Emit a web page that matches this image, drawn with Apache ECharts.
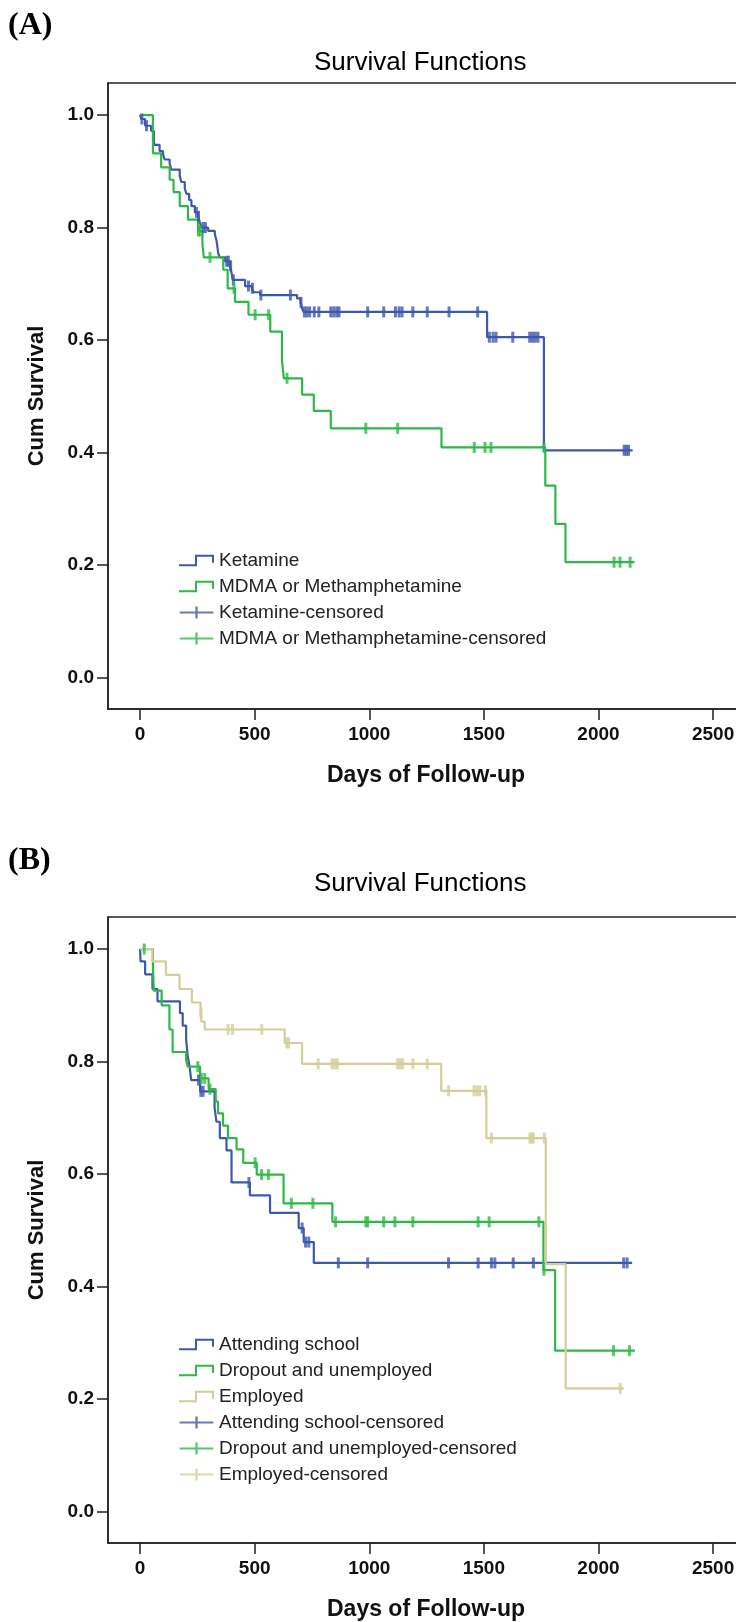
<!DOCTYPE html>
<html lang="en">
<head>
    <meta charset="UTF-8">
    <title>Survival Functions</title>
    <style>
        html, body {
            margin: 0;
            padding: 0;
            background: #ffffff;
        }
        #chart {
            width: 736px;
            height: 1622px;
        }
    </style>
</head>
<body>
<div id="chart"></div>
<script src="https://cdn.jsdelivr.net/npm/echarts@6/dist/echarts.min.js"></script>
<script>
    // (A) Ketamine vs MDMA / Methamphetamine: step times and survival after each step
    var ketTime = [0, 5, 22, 48, 60, 62, 85, 100, 107, 129, 136, 173, 180, 195, 202, 214, 224, 239, 253, 261, 268, 297, 326, 334, 341, 348, 370, 392, 400, 404, 458, 488, 495, 524, 685, 700, 707, 714, 1514, 1762, 2149];
    var ketSurv = [1.0, 0.993, 0.981, 0.972, 0.955, 0.947, 0.936, 0.930, 0.921, 0.914, 0.903, 0.892, 0.881, 0.870, 0.860, 0.849, 0.838, 0.827, 0.820, 0.809, 0.800, 0.794, 0.788, 0.776, 0.754, 0.747, 0.740, 0.732, 0.718, 0.707, 0.696, 0.692, 0.685, 0.680, 0.674, 0.667, 0.656, 0.650, 0.605, 0.404, 0.404];
    var ketCens = [8, 28, 246, 255, 275, 285, 378, 385, 395, 407, 473, 490, 527, 656, 702, 717, 728, 740, 760, 780, 832, 845, 858, 868, 993, 1063, 1114, 1130, 1143, 1190, 1253, 1348, 1473, 1524, 1540, 1553, 1626, 1700, 1712, 1724, 1736, 2112, 2122, 2131];

    var mdmaTime = [0, 56, 92, 129, 146, 173, 209, 253, 272, 278, 363, 382, 414, 473, 568, 619, 627, 707, 758, 832, 1315, 1768, 1812, 1856, 2157];
    var mdmaSurv = [1.0, 0.932, 0.907, 0.885, 0.863, 0.838, 0.814, 0.794, 0.770, 0.747, 0.725, 0.692, 0.668, 0.645, 0.615, 0.565, 0.532, 0.503, 0.474, 0.443, 0.409, 0.341, 0.273, 0.205, 0.205];
    var mdmaCens = [255, 262, 305, 410, 502, 561, 641, 985, 1124, 1458, 1505, 1531, 1762, 2068, 2094, 2138];

    // (B) Attending school / Dropout and unemployed / Employed
    var schTime = [0, 2, 22, 54, 76, 174, 186, 201, 208, 216, 223, 262, 325, 333, 348, 377, 399, 479, 567, 692, 714, 758, 2147];
    var schSurv = [1.0, 0.978, 0.955, 0.929, 0.907, 0.886, 0.864, 0.839, 0.809, 0.791, 0.767, 0.747, 0.718, 0.693, 0.664, 0.642, 0.585, 0.562, 0.531, 0.504, 0.479, 0.442, 0.442];
    var schCens = [255, 265, 275, 475, 707, 722, 736, 865, 993, 1346, 1475, 1533, 1548, 1628, 1716, 2110, 2125];

    var dropTime = [0, 56, 60, 94, 128, 142, 201, 208, 262, 299, 330, 340, 362, 384, 421, 450, 509, 626, 839, 1760, 1811, 2159];
    var dropSurv = [1.0, 0.970, 0.926, 0.900, 0.857, 0.817, 0.802, 0.791, 0.770, 0.751, 0.729, 0.708, 0.686, 0.664, 0.644, 0.620, 0.599, 0.548, 0.515, 0.429, 0.286, 0.286];
    var dropCens = [18, 252, 267, 282, 305, 502, 530, 560, 660, 754, 853, 985, 993, 1063, 1112, 1190, 1475, 1523, 1740, 1762, 2066, 2135];

    var empTime = [0, 54, 113, 172, 226, 264, 268, 282, 631, 707, 1314, 1511, 1770, 1857, 2110];
    var empSurv = [1.0, 0.978, 0.954, 0.929, 0.905, 0.886, 0.871, 0.857, 0.833, 0.796, 0.748, 0.664, 0.440, 0.219, 0.219];
    var empCens = [266, 384, 403, 531, 640, 648, 777, 838, 850, 861, 1124, 1135, 1146, 1190, 1253, 1346, 1457, 1470, 1482, 1507, 1533, 1701, 1708, 1716, 1764, 2095];

    var xTicks = [0, 500, 1000, 1500, 2000, 2500];
    var yTicks = [0, 0.2, 0.4, 0.6, 0.8, 1.0];

    var blue = '#3E58AC';
    var green = '#2EB848';
    var tan = '#D3CE97';

    var stepIcon = 'path://M0,9.5 L16,9.5 L16,0 L35,0 L35,8 L33,8 L33,2 L18,2 L18,11.5 L0,11.5 Z';
    var plusIcon = 'path://M0,5.2 L16.3,5.2 L16.3,0 L18.7,0 L18.7,5.2 L35,5.2 L35,7.2 L18.7,7.2 L18.7,12.5 L16.3,12.5 L16.3,7.2 L0,7.2 Z';

    function survAt(times, surv, t) {
        var s = surv[0];
        for (var i = 0; i < times.length; i++) {
            if (times[i] <= t) s = surv[i];
        }
        return s;
    }

    function curve(name, times, surv, color, idx) {
        return {
            name: name,
            type: 'line',
            step: 'end',
            xAxisIndex: idx,
            yAxisIndex: idx,
            symbol: 'none',
            color: color,
            lineStyle: {color: color, width: 2.2},
            data: times.map(function (t, i) { return [t, surv[i]]; })
        };
    }

    function censored(name, cens, times, surv, color, idx) {
        return {
            name: name,
            type: 'scatter',
            xAxisIndex: idx,
            yAxisIndex: idx,
            symbol: 'rect',
            symbolSize: [3, 11],
            color: color,
            itemStyle: {color: color},
            z: 3,
            data: cens.map(function (t) { return [t, survAt(times, surv, t)]; })
        };
    }

    function xAxis(idx) {
        return {
            type: 'value',
            gridIndex: idx,
            min: -140,
            max: 2635,
            name: 'Days of Follow-up',
            nameLocation: 'middle',
            nameGap: 55,
            nameTextStyle: {fontFamily: 'Liberation Sans', fontWeight: 'bold', fontSize: 23, color: '#111'},
            axisLine: {onZero: false, lineStyle: {color: '#222', width: 1.5}},
            axisTick: {customValues: xTicks, length: 11, lineStyle: {color: '#222', width: 1.5}},
            axisLabel: {
                customValues: xTicks, margin: 16,
                fontFamily: 'Liberation Sans', fontWeight: 'bold', fontSize: 19, color: '#111',
                formatter: function (v) { return String(v); }
            },
            splitLine: {show: false}
        };
    }

    function yAxis(idx) {
        return {
            type: 'value',
            gridIndex: idx,
            min: -0.056,
            max: 1.057,
            name: 'Cum Survival',
            nameLocation: 'middle',
            nameGap: 60,
            nameTextStyle: {fontFamily: 'Liberation Sans', fontWeight: 'bold', fontSize: 22, color: '#111'},
            axisLine: {onZero: false, lineStyle: {color: '#222', width: 1.5}},
            axisTick: {customValues: yTicks, length: 11, lineStyle: {color: '#222', width: 1.5}},
            axisLabel: {
                customValues: yTicks, margin: 14,
                fontFamily: 'Liberation Sans', fontWeight: 'bold', fontSize: 19, color: '#111',
                formatter: function (v) { return v.toFixed(1); }
            },
            splitLine: {show: false}
        };
    }

    function legend(names, top) {
        var n = names.length / 2;
        return {
            orient: 'vertical',
            left: 179,
            top: top,
            padding: 0,
            itemWidth: 35,
            itemHeight: 12,
            itemGap: 7,
            selectedMode: false,
            itemStyle: {borderWidth: 0},
            textStyle: {fontFamily: 'Liberation Sans', fontSize: 19, color: '#222'},
            data: names.map(function (nm, i) {
                return {name: nm, icon: i < n ? stepIcon : plusIcon};
            })
        };
    }

    var myChart = echarts.init(document.getElementById('chart'));
    var titleFont = {fontFamily: 'Liberation Sans', fontWeight: 'normal', fontSize: 26, color: '#000'};
    var panelFont = {fontFamily: 'Liberation Serif', fontWeight: 'bold', fontSize: 32, color: '#000'};
    var option = {
        animation: false,
        backgroundColor: '#fff',
        title: [
            {text: '(A)', left: 8, top: 10, padding: 0, textStyle: panelFont},
            {text: 'Survival Functions', left: 314, top: 50, padding: 0, textStyle: titleFont},
            {text: '(B)', left: 8, top: 845, padding: 0, textStyle: panelFont},
            {text: 'Survival Functions', left: 314, top: 871, padding: 0, textStyle: titleFont}
        ],
        grid: [
            {left: 108, top: 83, width: 636, height: 626, show: true, borderColor: '#222', borderWidth: 1.5, containLabel: false, outerBoundsMode: 'none'},
            {left: 108, top: 917, width: 636, height: 626, show: true, borderColor: '#222', borderWidth: 1.5, containLabel: false, outerBoundsMode: 'none'}
        ],
        xAxis: [xAxis(0), xAxis(1)],
        yAxis: [yAxis(0), yAxis(1)],
        legend: [
            legend(['Ketamine', 'MDMA or Methamphetamine', 'Ketamine-censored', 'MDMA or Methamphetamine-censored'], 551),
            legend(['Attending school', 'Dropout and unemployed', 'Employed', 'Attending school-censored', 'Dropout and unemployed-censored', 'Employed-censored'], 1335)
        ],
        series: [
            curve('Ketamine', ketTime, ketSurv, blue, 0),
            curve('MDMA or Methamphetamine', mdmaTime, mdmaSurv, green, 0),
            censored('Ketamine-censored', ketCens, ketTime, ketSurv, blue, 0),
            censored('MDMA or Methamphetamine-censored', mdmaCens, mdmaTime, mdmaSurv, green, 0),
            curve('Attending school', schTime, schSurv, blue, 1),
            curve('Dropout and unemployed', dropTime, dropSurv, green, 1),
            curve('Employed', empTime, empSurv, tan, 1),
            censored('Attending school-censored', schCens, schTime, schSurv, blue, 1),
            censored('Dropout and unemployed-censored', dropCens, dropTime, dropSurv, green, 1),
            censored('Employed-censored', empCens, empTime, empSurv, tan, 1)
        ]
    };
    myChart.setOption(option);
</script>
</body>
</html>
